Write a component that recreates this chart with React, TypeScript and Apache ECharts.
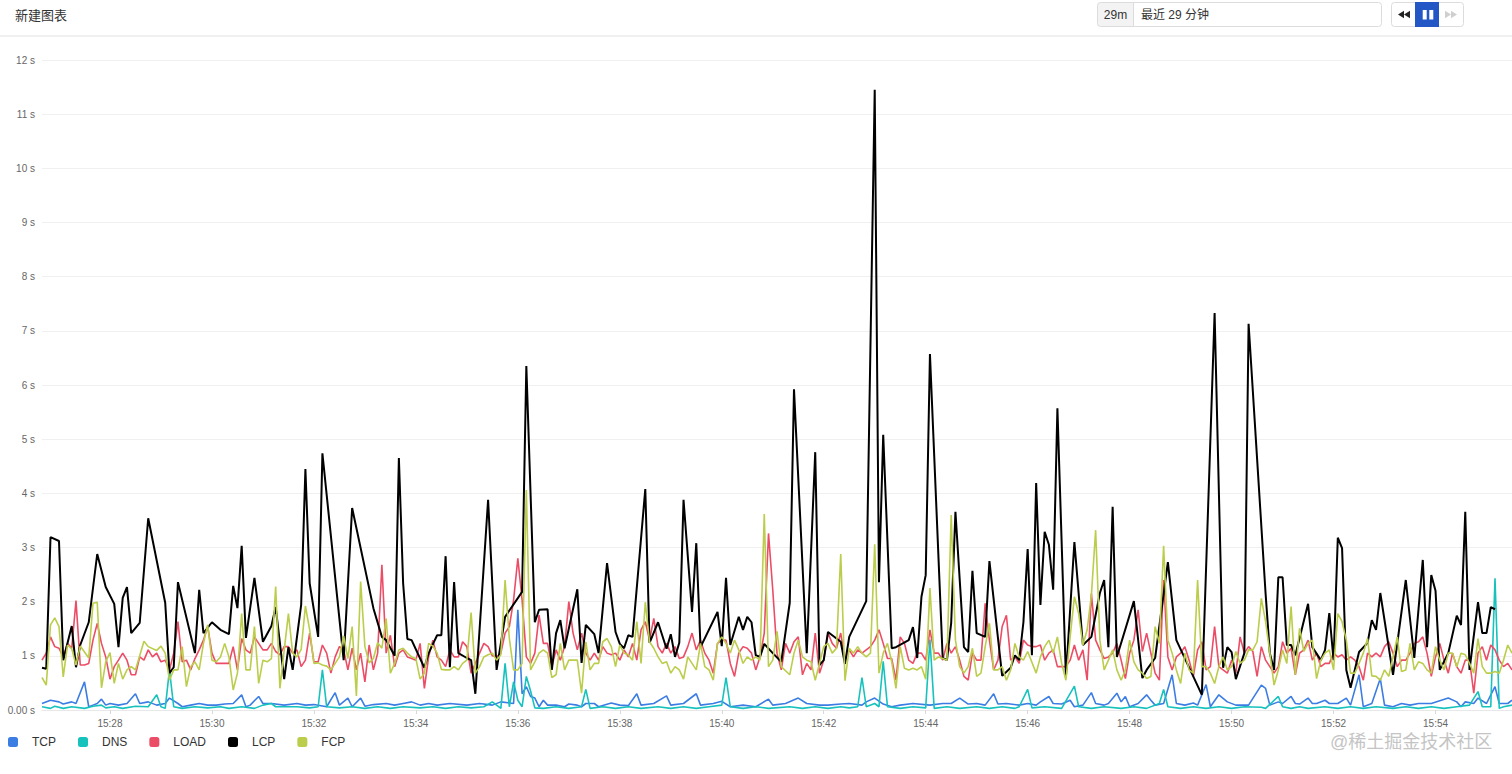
import React, { useEffect, useRef } from "react";
import * as echarts from "echarts";

const FONT = '"Liberation Sans", Arial, "Noto Sans CJK SC", sans-serif';

// time grid: slot index i -> 15:26:40 + i*5s
const START_SEC = 15 * 3600 + 26 * 60 + 40;
const STEP_SEC = 5;
const SPAN_SEC = 1730;

const xTickSeconds = [80, 200, 320, 440, 560, 680, 800, 920, 1040, 1160, 1280, 1400, 1520, 1640];
const xTickLabels = ["15:28", "15:30", "15:32", "15:34", "15:36", "15:38", "15:40", "15:42", "15:44", "15:46", "15:48", "15:50", "15:52", "15:54"];
const yMax = 12;

const seriesNames = ["TCP", "DNS", "LOAD", "LCP", "FCP"];
const seriesColors = ["#3b7de3", "#17c2bd", "#ec4d66", "#000000", "#bccd4c"];

const tcp: [number, number][] = [[0,.12],[2,.18],[4,.15],[5,.11],[7,.15],[8,.12],[10,.52],[11,.06],[12,.09],[13,.12],[14,.2],[15,.09],[16,.12],[18,.09],[20,.12],[22,.3],[23,.12],[25,.15],[27,.09],[29,.12],[30,.22],[32,.12],[33,.06],[35,.09],[37,.12],[39,.09],[41,.09],[43,.11],[45,.12],[47,.28],[48,.06],[49,.09],[51,.25],[52,.12],[54,.12],[57,.09],
[60,.12],[62,.09],[64,.1],[67,.06],[69,.32],[70,.09],[72,.22],[73,.06],[75,.22],[76,.07],[78,.1],[81,.12],[83,.09],[85,.12],[87,.15],[89,.09],[91,.12],[93,.09],[96,.12],[100,.09],[103,.12],[106,.09],[108,.15],[111,.12],[112,1.85],[113,.3],[114,.43],[115,.25],
[116,.22],[117,.06],[118,.18],[119,.09],[121,.09],[123,.06],[124,.11],[126,.09],[127,.06],[128,.12],[130,.12],[131,.06],[134,.13],[136,.09],[138,.08],[140,.3],[141,.09],[144,.12],[147,.26],[148,.09],[151,.12],[154,.3],[155,.09],[158,.12],[160,.16],[162,.06],[165,.09],[168,.06],[171,.2],[172,.09],
[175,.12],[178,.22],[180,.12],[183,.09],[185,.09],[188,.11],[190,.12],[193,.09],[194,.15],[196,.22],[198,.11],[200,.06],[202,.09],[205,.12],[209,.09],[212,.12],[214,.12],[216,.22],[218,.11],[220,.12],[222,.09],[224,.3],[225,.11],[227,.12],[230,.09],
[232,.12],[234,.09],[235,.15],[237,.25],[238,.12],[240,.11],[242,.18],[243,.06],[245,.09],[247,.32],[248,.12],[250,.09],[251,.12],[253,.31],[254,.15],[255,.25],[256,.06],[258,.12],[260,.28],[261,.18],[262,.09],[264,.12],[266,.65],[267,.12],[269,.09],[271,.13],[272,.09],[274,.47],[275,.06],[277,.28],[279,.15],[281,.09],[284,.09],[287,.46],[288,.4],
[289,.09],[291,.15],[292,.12],[294,.25],[295,.12],[296,.11],[298,.22],[299,.12],[300,.12],[302,.18],[303,.12],[305,.12],[307,.22],[308,.09],[310,.65],[311,.06],[313,.12],[315,.58],[316,.09],[318,.06],[320,.12],[322,.09],[324,.12],[327,.12],[331,.22],[333,.15],[334,.06],[335,.15],[337,.12],[338,.22],[340,.12],[342,.43],[343,.12],[345,.12],[346,.18]];

const dns: [number, number][] = [[0,.06],[2,.03],[3,.07],[5,.03],[7,.06],[10,.03],[12,.07],[14,.09],[15,.04],[17,.06],[19,.03],[22,.07],[25,.06],[27,.28],[28,.06],[29,.03],[30,.74],[31,.06],[33,.03],[36,.06],[39,.04],[42,.06],[44,.03],[47,.06],[50,.03],[52,.09],[54,.12],[55,.06],[57,.06],
[60,.06],[63,.04],[65,.06],[66,.74],[67,.06],[70,.04],[73,.06],[76,.03],[79,.06],[82,.03],[85,.06],[89,.04],[92,.06],[95,.03],[98,.06],[101,.04],[104,.06],[106,.15],[108,.03],[109,.86],[110,.06],[111,.52],[112,.18],[113,.06],[114,.62],[115,.35],[116,.04],
[118,.03],[121,.06],[124,.03],[127,.06],[128,.38],[129,.03],[132,.06],[135,.03],[138,.06],[141,.03],[145,.06],[148,.03],[151,.06],[154,.03],[157,.06],[160,.09],[161,.6],[162,.06],[165,.03],[168,.06],[171,.03],
[176,.06],[179,.03],[182,.06],[185,.03],[188,.06],[190,.04],[192,.06],[193,.6],[194,.06],[196,.12],[197,.06],[198,.9],[199,.06],[202,.03],[205,.06],[208,.04],[209,1.3],[210,.03],[213,.06],[216,.03],[220,.06],[223,.03],[226,.06],[229,.03],
[230,.06],[232,.38],[233,.04],[236,.06],[240,.03],[243,.44],[244,.06],[247,.03],[250,.06],[254,.03],[257,.06],[260,.03],[263,.12],[264,.38],[265,.06],[268,.03],[271,.06],[274,.03],[277,.06],[280,.03],[283,.06],[287,.05],
[288,.03],[291,.25],[292,.06],[294,.03],[296,.06],[298,.03],[302,.06],[305,.03],[308,.06],[311,.03],[314,.06],[318,.03],[321,.06],[324,.03],[327,.06],[330,.03],[333,.06],[336,.09],[338,.34],[339,.06],[341,.06],[342,2.43],[343,.03],[344,.06],[346,.09]];

const load: [number, number][] = [[0,.92],[1,1.05],[2,1.35],[3,1.17],[4,1.14],[5,.98],[6,1.23],[7,1.14],[8,2.02],[9,.83],[10,.83],[11,.86],[12,1.29],[13,1.6],[14,1.23],[15,.98],[16,.57],[17,.8],[18,.92],[19,1.05],[20,.92],[21,.65],[22,.65],[23,.98],[24,.92],[25,1.11],[26,.98],[27,1.05],[28,.89],[29,.92],[30,.74],[31,1.05],[32,1.63],[33,.89],[34,.92],[35,.74],[36,.95],[37,1.11],[38,1.29],[39,1.54],[40,1.05],[41,.86],[42,.86],[43,.86],[44,.86],[45,1.17],[46,.74],[47,1.32],[48,1.11],[49,1.05],[50,1.35],[51,1.23],[52,1.11],[53,1.11],[54,1.23],[55,1.08],[56,1.02],[57,1.17],
[58,1.17],[59,1.05],[60,1.11],[61,.8],[62,.92],[63,1.42],[64,.89],[65,.89],[66,1.2],[67,1.05],[68,.68],[69,.98],[70,1.17],[71,1.11],[72,.74],[73,1.14],[74,.74],[75,1.05],[76,.52],[77,1.2],[78,.74],[79,1.05],[80,2.68],[81,1.05],[82,1.38],[83,.8],[84,1.05],[85,1.11],[86,.98],[87,.95],[88,.92],[89,1.23],[90,.4],[91,.98],[92,1.29],[93,.98],[94,.92],[95,.8],[96,1.11],[97,.98],[98,.98],[99,1.26],[100,1.17],[101,.68],[102,.86],[103,1.05],[104,1.23],[105,1.17],[106,1.0],[107,.98],[108,1.05],[109,1.42],[110,1.54],[111,2.03],[112,2.8],[113,2.03],[114,.98],[115,.86],
[116,1.05],[117,1.75],[118,1.23],[119,1.23],[120,.8],[121,1.11],[122,.92],[123,1.17],[124,2.0],[125,1.42],[126,1.11],[127,1.42],[128,1.05],[129,.92],[130,1.05],[131,.92],[132,1.17],[133,1.05],[134,1.02],[135,1.05],[136,.92],[137,1.11],[138,.98],[139,1.23],[140,.92],[141,1.48],[142,1.63],[143,1.29],[144,1.69],[145,1.17],[146,1.05],[147,1.23],[148,1.05],[149,1.17],[150,.95],[151,.98],[152,1.17],[153,1.42],[154,1.11],[155,1.29],[156,1.05],[157,.92],[158,.68],[159,1.23],[160,1.29],[161,1.29],[162,.86],[163,.62],[164,1.05],[165,1.17],[166,1.14],[167,1.05],[168,.74],[169,.98],[170,1.42],[171,3.26],[172,2.22],
[173,1.05],[174,.74],[175,1.23],[176,1.05],[177,1.26],[178,1.35],[179,.65],[180,.86],[181,.74],[182,1.42],[183,.68],[184,.92],[185,1.42],[186,1.23],[187,1.14],[188,1.42],[189,.92],[190,1.11],[191,.98],[192,1.11],[193,1.05],[194,1.11],[195,1.17],[196,1.29],[197,1.48],[198,1.23],[199,.95],[200,.95],[201,.55],[202,1.35],[203,1.23],[204,.92],[205,.86],[206,1.05],[207,1.05],[208,.92],[209,1.48],[210,1.05],[211,1.05],[212,.92],[213,1.23],[214,1.05],[215,1.17],[216,.92],[217,.62],[218,.55],[219,1.05],[220,.92],[221,.92],[222,1.97],[223,1.29],[224,.74],[225,.92],[226,1.54],[227,1.75],[228,.92],[229,.98],[230,.86],
[231,1.29],[232,1.2],[233,1.17],[234,1.17],[235,1.2],[236,.92],[237,1.05],[238,1.11],[239,.8],[240,.8],[241,.8],[242,.92],[243,1.2],[244,.92],[245,1.11],[246,.55],[247,2.15],[248,1.29],[249,1.11],[250,.95],[251,.98],[252,1.05],[253,1.23],[254,.92],[255,.58],[256,1.05],[257,1.29],[258,1.85],[259,1.08],[260,1.42],[261,1.05],[262,.68],[263,.55],[264,2.4],[265,.98],[266,.74],[267,.98],[268,1.05],[269,1.17],[270,.92],[271,.62],[272,1.11],[273,1.26],[274,.74],[275,.8],[276,1.54],[277,.8],[278,.74],[279,.68],[280,.92],[281,.68],[282,1.35],[283,1.05],[284,1.17],[285,1.08],[286,.62],[287,1.17],
[288,.92],[289,.8],[290,.68],[291,.8],[292,1.26],[293,1.05],[294,1.14],[295,.65],[296,1.05],[297,1.11],[298,1.29],[299,.92],[300,1.05],[301,.8],[302,.86],[303,.86],[304,1.05],[305,.98],[306,1.02],[307,.92],[308,.98],[309,.92],[310,.8],[311,.55],[312,1.05],[313,.98],[314,1.05],[315,.98],[316,1.17],[317,1.26],[318,1.05],[319,.8],[320,.92],[321,.92],[322,1.05],[323,1.23],[324,1.26],[325,1.35],[326,1.05],[327,.62],[328,.98],[329,1.23],[330,.92],[331,.68],[332,1.05],[333,.8],[334,.68],[335,.92],[336,.92],[337,.31],[338,1.05],[339,1.17],[340,.92],[341,1.2],[342,1.11],[343,.92],[344,.8],[345,.86],[346,.74]];

const lcp: [number, number][] = [[0,.78],[1,.76],[2,3.19],[4,3.12],[5,.92],[7,1.55],[8,.79],[9,1.2],[11,1.62],[13,2.88],[15,2.27],[17,1.96],[18,1.16],[19,2.07],[20,2.27],[21,1.42],[23,1.61],[25,3.54],[29,1.98],[30,.68],[31,.79],[32,2.36],[36,1.05],[37,2.22],[38,1.42],[40,1.62],[42,1.48],[44,1.4],[45,2.29],[46,1.88],[47,3.03],[48,1.33],[50,2.44],[52,1.26],[54,1.55],[55,1.9],[57,.57],
[58,1.16],[59,.74],[61,1.94],[62,4.45],[63,2.34],[65,1.35],[66,4.74],[71,.92],[73,3.73],[78,1.88],[80,1.35],[81,1.29],[83,1.0],[84,4.65],[85,2.34],[86,1.31],[87,1.29],[90,.78],[91,1.05],[93,1.38],[94,1.38],[95,2.84],[96,.79],[97,2.36],[98,1.05],[100,.96],[101,.92],[102,.3],[105,3.88],[107,.74],[109,1.72],[113,2.18],[114,6.35],
[116,1.62],[117,1.85],[119,1.86],[120,.74],[121,1.42],[122,1.66],[123,1.14],[126,2.23],[127,.87],[128,1.57],[130,1.4],[131,1.05],[133,2.71],[135,1.44],[136,1.22],[137,1.14],[138,1.38],[139,1.35],[142,4.08],[143,1.24],[145,1.62],[147,1.13],[148,1.4],[149,.98],[150,1.24],[151,3.88],[153,1.81],[154,3.08],[155,1.16],[159,1.81],[160,1.18],[161,2.44],[162,1.2],[164,1.72],[165,1.48],[166,1.72],[167,1.62],[168,1.01],[169,.98],[170,1.22],[172,1.05],
[174,.89],[176,1.98],[177,5.92],[180,1.05],[182,4.76],[183,.83],[184,.92],[185,1.44],[188,1.26],[189,.85],[190,1.35],[194,2.01],[196,11.45],[197,2.36],[198,5.08],[200,1.14],[201,1.16],[204,1.29],[205,1.53],[206,.96],[207,2.09],[208,2.49],[209,6.57],[212,.96],[213,.92],[214,1.61],[215,3.66],[217,1.16],[218,1.07],[219,2.57],[220,1.42],[222,1.35],[223,2.75],[226,.63],[228,.78],[229,1.01],[230,.92],
[231,1.62],[232,2.97],[233,1.01],[234,4.19],[235,1.94],[236,3.29],[237,3.05],[238,2.22],[239,5.57],[241,.61],[243,3.1],[245,1.2],[247,1.35],[249,2.16],[250,2.4],[251,1.16],[252,3.75],[253,.98],[257,2.01],[259,.59],[260,.74],[262,.96],[265,2.73],[267,1.29],[273,.28],[276,7.33],[278,.78],[279,1.16],[280,1.07],[281,.57],[283,1.05],[284,7.13],[288,2.15],
[289,1.05],[290,.74],[291,2.45],[292,2.45],[293,1.2],[294,1.2],[295,1.01],[298,1.96],[299,1.16],[301,.92],[302,1.11],[303,1.79],[304,.92],[305,3.18],[306,2.99],[307,.74],[308,.41],[310,1.07],[312,1.24],[313,1.66],[314,1.48],[315,2.16],[318,.65],[321,2.4],[323,.96],[325,2.77],[326,1.16],[327,2.49],[328,2.2],[329,.74],[331,1.05],[333,1.74],[334,1.57],[335,3.66],[336,.74],[338,1.99],[339,1.42],[340,1.42],[341,1.9],[342,1.86]];

const fcp: [number, number][] = [[0,.6],[1,.46],[2,1.57],[3,1.7],[4,1.54],[5,.61],[6,1.2],[7,1.13],[8,.83],[9,1.18],[11,.96],[12,1.97],[13,1.99],[14,.41],[15,.89],[16,1.06],[17,.49],[18,.86],[19,.57],[20,.74],[21,.8],[22,.74],[24,1.27],[25,1.17],[27,1.1],[28,1.18],[29,1.05],[30,.55],[31,.74],[32,.74],[33,1.17],[34,.43],[35,.8],[36,.89],[37,.74],[38,1.23],[39,1.57],[40,.92],[41,.89],[42,.98],[43,1.23],[44,.98],[45,.37],[46,.68],[47,1.78],[48,.74],[49,.74],[50,1.54],[51,.49],[52,.92],[53,.89],[54,.95],[55,2.28],[56,.4],[57,1.1],
[58,1.78],[59,1.05],[60,.98],[61,1.12],[62,1.92],[63,1.48],[64,.86],[65,.87],[66,.83],[67,.81],[68,.74],[69,.86],[70,.98],[71,1.37],[72,.95],[73,1.54],[74,.26],[75,2.37],[76,1.17],[77,.87],[78,.95],[79,1.24],[80,1.14],[81,1.69],[82,.68],[83,.86],[84,1.11],[85,1.14],[86,1.05],[87,.98],[88,.95],[89,.57],[90,.68],[91,1.23],[92,1.18],[93,1.05],[94,.75],[95,.74],[96,.74],[97,.8],[98,.74],[99,.86],[100,.92],[101,1.8],[102,.68],[103,.8],[104,.98],[105,1.02],[106,1.05],[107,.92],[108,1.02],[109,2.4],[110,1.32],[111,.74],[112,.74],[113,.86],[114,4.06],
[115,.74],[116,.89],[117,1.05],[118,1.11],[119,1.05],[120,.6],[121,.65],[122,1.23],[123,.74],[124,.92],[126,.92],[127,.31],[128,1.26],[129,.74],[130,.86],[131,.86],[132,1.26],[133,1.32],[134,1.17],[135,.8],[136,1.2],[137,1.05],[138,1.02],[139,.92],[140,1.63],[141,.86],[142,1.99],[143,1.26],[144,1.14],[145,.98],[146,.86],[147,.89],[148,.68],[149,.8],[150,.74],[151,.57],[152,.98],[153,.86],[154,.74],[155,1.23],[156,.8],[157,.74],[158,.55],[159,1.23],[160,1.35],[161,1.23],[162,1.05],[163,1.29],[164,1.11],[165,.86],[166,.98],[167,.92],[168,.98],[169,.92],[170,3.62],[171,.8],[172,.92],
[173,1.45],[174,.8],[176,.65],[177,1.05],[178,1.29],[179,.98],[180,.92],[181,.89],[182,.55],[184,1.17],[185,1.23],[186,1.05],[187,1.14],[188,2.88],[189,.54],[190,1.14],[191,1.05],[192,1.17],[193,1.05],[194,.98],[195,1.05],[196,3.06],[197,.68],[198,1.05],[199,1.23],[200,.89],[201,.4],[202,1.17],[203,.77],[204,.74],[205,.77],[206,.74],[207,.8],[208,.57],[209,2.25],[210,.92],[211,.98],[212,.95],[213,.92],[214,3.6],[215,1.29],[216,.8],[217,.68],[218,.8],[219,1.14],[220,.62],[221,.68],[222,1.17],[223,1.6],[224,.74],[225,.74],[226,.8],[227,.55],[228,.74],[229,1.23],[230,.98],
[231,.92],[232,1.08],[234,.68],[235,.98],[236,1.17],[237,1.29],[238,1.05],[239,1.35],[240,.86],[241,.55],[242,1.35],[243,2.09],[244,1.78],[245,1.2],[246,1.48],[247,2.12],[248,3.32],[249,1.29],[250,.74],[251,.92],[252,1.11],[253,.74],[254,.55],[255,.74],[256,1.29],[257,.89],[258,.74],[259,.68],[260,.58],[261,.62],[262,1.54],[263,1.23],[264,3.03],[265,1.29],[266,1.05],[267,.74],[268,.49],[269,1.05],[270,.74],[271,.68],[272,2.4],[273,.8],[274,.8],[275,.68],[276,.49],[277,.8],[278,.98],[279,.74],[280,.8],[281,1.08],[282,.86],[283,.92],[284,1.11],[285,1.11],[286,1.26],[287,2.06],
[288,1.63],[289,1.05],[290,.46],[291,.74],[292,1.11],[293,.86],[294,1.91],[295,.65],[296,1.51],[297,1.08],[298,1.23],[299,1.29],[300,.58],[301,.92],[302,1.05],[303,1.11],[304,.74],[305,1.78],[306,1.63],[307,1.29],[308,.68],[309,.68],[310,.86],[311,1.05],[312,1.32],[313,.63],[314,.62],[315,.55],[316,.74],[317,.62],[318,.98],[319,1.35],[320,.71],[321,.74],[322,1.23],[323,.74],[324,.89],[325,.86],[326,.74],[327,.68],[328,1.17],[329,.92],[330,.74],[331,1.05],[332,1.05],[333,.8],[334,1.05],[335,1.02],[336,.86],[337,.68],[338,1.32],[339,.8],[340,.68],[341,.68],[342,.71],[343,.68],[344,.92],[345,1.2],[346,1.05]];

const seriesData = [tcp, dns, load, lcp, fcp];

function fmtClock(sec: number) {
  const t = START_SEC + sec;
  const h = Math.floor(t / 3600);
  const m = Math.floor((t % 3600) / 60);
  return `${String(h).padStart(2, "0")}:${String(m).padStart(2, "0")}`;
}

export default function App() {
  const ref = useRef<HTMLDivElement>(null);

  useEffect(() => {
    if (!ref.current) return;
    const chart = echarts.init(ref.current, null, { renderer: "svg" });
    const option: any = {
      animation: false,
      textStyle: { fontFamily: FONT },
      grid: { left: 42, right: 0, top: 60, bottom: 64, containLabel: false, outerBoundsMode: "none" },
      legend: {
        data: seriesNames,
        left: 8,
        top: 736,
        padding: 0,
        icon: "roundRect",
        itemWidth: 10,
        itemHeight: 10,
        itemGap: 22,
        textStyle: { fontSize: 12, color: "#333", fontFamily: FONT, padding: [0, 0, 0, 9] },
      },
      xAxis: {
        type: "value",
        min: 0,
        max: SPAN_SEC,
        splitLine: { show: false },
        axisLine: { show: true, lineStyle: { color: "#e8e8e8" } },
        axisTick: { show: true, length: 4, lineStyle: { color: "#d9d9d9" }, customValues: xTickSeconds },
        axisLabel: {
          fontSize: 10,
          color: "#666",
          margin: 8,
          fontFamily: FONT,
          customValues: xTickSeconds,
          formatter: (v: number) => {
            const k = xTickSeconds.indexOf(Math.round(v));
            return k >= 0 ? xTickLabels[k] : fmtClock(v);
          },
        },
      },
      yAxis: {
        type: "value",
        min: 0,
        max: yMax,
        interval: 1,
        axisLine: { show: false },
        axisTick: { show: false },
        splitLine: { lineStyle: { color: "#f0f0f0", width: 1 } },
        axisLabel: {
          fontSize: 10,
          color: "#666",
          margin: 7,
          fontFamily: FONT,
          formatter: (v: number) => (v === 0 ? "0.00 s" : `${v} s`),
        },
      },
      series: seriesNames.map((name, k) => ({
        name,
        type: "line",
        data: seriesData[k].map(([i, v]) => [i * STEP_SEC, v]),
        showSymbol: false,
        symbol: "none",
        color: seriesColors[k],
        lineStyle: { width: name === "LCP" ? 2 : 1.6, color: seriesColors[k] },
        emphasis: { disabled: true },
        silent: true,
      })),
      graphic: [
        { type: "text", x: 15, y: 15, style: { text: "新建图表", fontSize: 13, fill: "#333", fontFamily: FONT, verticalAlign: "middle" } },
        { type: "rect", shape: { x: 0, y: 35, width: 1512, height: 2 }, style: { fill: "#f0f0f0" } },
        { type: "rect", shape: { x: 1097.5, y: 2.5, width: 36, height: 24, r: [3, 0, 0, 3] }, style: { fill: "#f3f3f3", stroke: "#dcdcdc", lineWidth: 1 } },
        { type: "text", x: 1115.5, y: 14.5, style: { text: "29m", fontSize: 12, fill: "#333", align: "center", verticalAlign: "middle", fontFamily: FONT } },
        { type: "rect", shape: { x: 1133.5, y: 2.5, width: 248, height: 24, r: [0, 3, 3, 0] }, style: { fill: "#fff", stroke: "#dcdcdc", lineWidth: 1 } },
        { type: "text", x: 1141, y: 14.5, style: { text: "最近 29 分钟", fontSize: 12, fill: "#333", verticalAlign: "middle", fontFamily: FONT } },
        { type: "rect", shape: { x: 1391.5, y: 2.5, width: 72, height: 24, r: 3 }, style: { fill: "#fff", stroke: "#dcdcdc", lineWidth: 1 } },
        { type: "rect", shape: { x: 1415, y: 2, width: 24, height: 25 }, style: { fill: "#2357c5" } },
        { type: "rect", shape: { x: 1422.7, y: 10, width: 4, height: 9.5 }, style: { fill: "#fff" } },
        { type: "rect", shape: { x: 1429.3, y: 10, width: 4, height: 9.5 }, style: { fill: "#fff" } },
        { type: "polygon", shape: { points: [[1398, 14.5], [1404, 10.8], [1404, 18.2]] }, style: { fill: "#222" } },
        { type: "polygon", shape: { points: [[1404, 14.5], [1410, 10.8], [1410, 18.2]] }, style: { fill: "#222" } },
        { type: "polygon", shape: { points: [[1451, 14.5], [1445, 10.8], [1445, 18.2]] }, style: { fill: "#cfcfcf" } },
        { type: "polygon", shape: { points: [[1457, 14.5], [1451, 10.8], [1451, 18.2]] }, style: { fill: "#cfcfcf" } },
        { type: "text", x: 1330, y: 742, style: { text: "@稀土掘金技术社区", fontSize: 18, fill: "#c4c4c4", verticalAlign: "middle", fontFamily: FONT } },
      ],
    };
    chart.setOption(option);
    return () => chart.dispose();
  }, []);

  return <div ref={ref} style={{ position: "absolute", left: 0, top: 0, width: 1512, height: 774, background: "#fff" }} />;
}
